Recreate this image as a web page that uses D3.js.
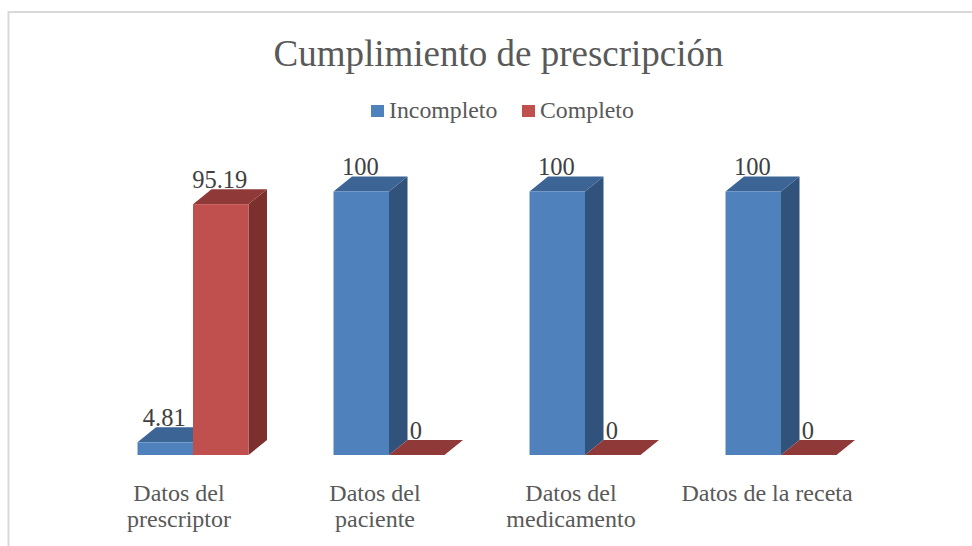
<!DOCTYPE html>
<html>
<head>
<meta charset="utf-8">
<script src="https://cdn.jsdelivr.net/npm/d3@7"></script>
<style>
  body { margin: 0; background: #fff; }
  text { font-family: "Liberation Serif", serif; }
</style>
</head>
<body>
<div id="myChart"></div>
<script>
var categories = ["Datos del prescriptor", "Datos del paciente", "Datos del medicamento", "Datos de la receta"];
var seriesNames = ["Incompleto", "Completo"];
var incompleto = [4.81, 100, 100, 100];
var completo = [95.19, 0, 0, 0];

const width = 972;
const height = 546;
const depthX = 18.5;
const depthY = 15;

var svg = d3.select("#myChart").append("svg")
  .attr("width", width)
  .attr("height", height)
  .style("display", "block");

// chart frame, runs off the bottom of the picture
svg.append("path")
  .attr("d", "M8.5,546V12H972")
  .attr("fill", "none")
  .attr("stroke", "#d9d9d9")
  .attr("stroke-width", 2);

var x = d3.scaleBand().domain(categories).range([95, 879]);
var x1 = d3.scaleBand().domain(seriesNames).range([0, 111]);
var y = d3.scaleLinear().domain([0, 100]).range([455, 191.5]);
var color = d3.scaleOrdinal().domain(seriesNames).range(["#4f81bd", "#c0504d"]);
var colorTop = d3.scaleOrdinal().domain(seriesNames).range(["#3c6595", "#8f3a38"]);
var colorSide = d3.scaleOrdinal().domain(seriesNames).range(["#31537b", "#7b302e"]);

var bars = [];
seriesNames.forEach(function(s, i) {
  var vals = i == 0 ? incompleto : completo;
  categories.forEach(function(c, j) {
    bars.push({ cat: c, ser: s, val: vals[j] });
  });
});

function barX(d) {
  return x(d.cat) + (x.bandwidth() - x1.range()[1]) / 2 + x1(d.ser);
}

var g = svg.selectAll(".bar").data(bars).enter().append("g").attr("class", "bar");

// side face
g.append("path")
  .attr("fill", function(d) { return colorSide(d.ser); })
  .attr("d", function(d) {
    var r = barX(d) + x1.bandwidth();
    return "M" + r + "," + y(0) + "L" + (r + depthX) + "," + (y(0) - depthY) +
      "V" + (y(d.val) - depthY) + "L" + r + "," + y(d.val) + "Z";
  });

// top face
g.append("path")
  .attr("fill", function(d) { return colorTop(d.ser); })
  .attr("d", function(d) {
    var l = barX(d), r = l + x1.bandwidth();
    return "M" + l + "," + y(d.val) + "L" + (l + depthX) + "," + (y(d.val) - depthY) +
      "H" + (r + depthX) + "L" + r + "," + y(d.val) + "Z";
  });

// front face
g.append("rect")
  .attr("x", barX)
  .attr("y", function(d) { return y(d.val); })
  .attr("width", x1.bandwidth())
  .attr("height", function(d) { return y(0) - y(d.val); })
  .attr("fill", function(d) { return color(d.ser); });

// value labels
svg.selectAll(".val").data(bars).enter().append("text")
  .attr("class", "val")
  .attr("x", function(d) { return barX(d) + x1.bandwidth() / 2 - 1; })
  .attr("y", function(d) { return y(d.val) - 16.5; })
  .attr("text-anchor", "middle")
  .attr("font-size", 24.5)
  .attr("fill", "#404040")
  .text(function(d) { return d.val; });

// category labels
var xAxis = d3.axisBottom(x).tickSize(0).tickPadding(0);
var axisG = svg.append("g")
  .attr("transform", "translate(-14,482)")
  .call(xAxis);
axisG.select(".domain").remove();
axisG.selectAll("text")
  .attr("font-size", 24)
  .attr("fill", "#595959")
  .style("font-family", '"Liberation Serif", serif')
  .each(function(d) {
    var t = d3.select(this);
    var lines = d == "Datos de la receta" ? [d] : [d.split(" ").slice(0, 2).join(" "), d.split(" ").slice(2).join(" ")];
    t.text(null);
    lines.forEach(function(l, i) {
      t.append("tspan").attr("x", 0).attr("y", 19 + i * 26).attr("dy", 0).text(l);
    });
  });

// title
svg.append("text")
  .attr("x", 498.5)
  .attr("y", 66)
  .attr("text-anchor", "middle")
  .attr("font-size", 37)
  .attr("fill", "#595959")
  .text("Cumplimiento de prescripción");

// legend
var legendX = [371, 522];
var legend = svg.selectAll(".legend").data(seriesNames).enter().append("g")
  .attr("class", "legend")
  .attr("transform", function(d, i) { return "translate(" + legendX[i] + ",105)"; });
legend.append("rect")
  .attr("width", 13)
  .attr("height", 12)
  .attr("fill", function(d) { return color(d); });
legend.append("text")
  .attr("x", 18)
  .attr("y", 13)
  .attr("font-size", 23.8)
  .attr("fill", "#595959")
  .text(function(d) { return d; });
</script>
</body>
</html>
